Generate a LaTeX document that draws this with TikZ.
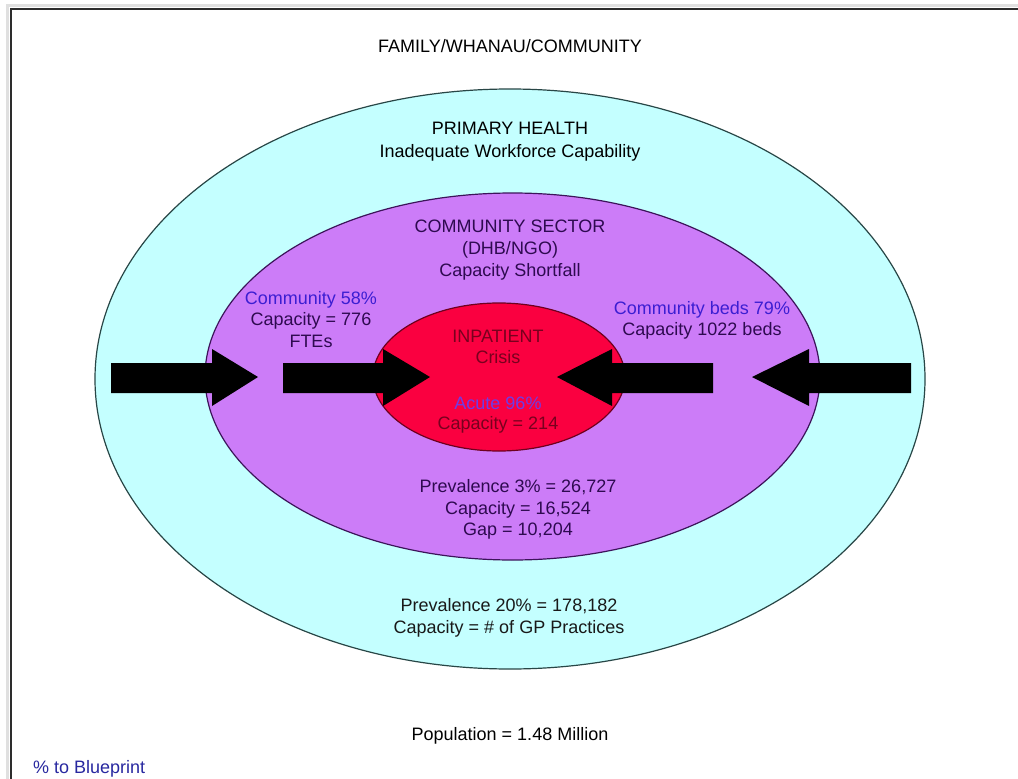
\documentclass[tikz,border=0pt]{standalone}
\usepackage{fontspec}
\setmainfont{Liberation Sans}
\usetikzlibrary{shapes.geometric}
\definecolor{cyanfill}{RGB}{196,255,255}
\definecolor{cyanline}{RGB}{40,70,70}
\definecolor{purplefill}{RGB}{204,124,248}
\definecolor{purpleline}{RGB}{60,20,90}
\definecolor{redfill}{RGB}{250,0,64}
\definecolor{redline}{RGB}{110,0,30}
\definecolor{purpletext}{RGB}{46,10,80}
\definecolor{redtext}{RGB}{120,0,30}
\definecolor{bluetext}{RGB}{60,30,210}
\definecolor{acutetext}{RGB}{110,60,230}
\definecolor{legendblue}{RGB}{40,40,160}
\definecolor{framegray}{RGB}{45,45,45}
\begin{document}
\begin{tikzpicture}[x=1pt,y=-1pt,
  txt/.style={align=center,anchor=base,inner sep=0pt,font=\fontsize{18}{22}\selectfont},
  ell/.style={ellipse,draw,line width=1.2pt,inner sep=0pt},
  blockarrow/.style={fill=black}]
\useasboundingbox (0,0) rectangle (1018,779);
\fill[white] (0,0) rectangle (1018,779);
% frame with faint shadow
\draw[line width=3pt,black!12] (7,779) -- (7,5) -- (1018,5);
\draw[line width=2pt,framegray] (11,779) -- (11,9) -- (1018,9);
% ellipses
\node[ell,draw=cyanline,fill=cyanfill,minimum width=830,minimum height=580] (outer) at (510,379) {};
\node[ell,draw=purpleline,fill=purplefill,minimum width=615,minimum height=367] (mid) at (512.5,376.5) {};
\node[ell,draw=redline,fill=redfill,minimum width=252,minimum height=148] (inner) at (499,377) {};
% arrows
\fill[blockarrow] (111,363) -- (212,363) -- (212,349) -- (258,377) -- (212,406) -- (212,393) -- (111,393) -- cycle;
\fill[blockarrow] (283,363) -- (383,363) -- (383,349) -- (430,377) -- (383,406) -- (383,393) -- (283,393) -- cycle;
\fill[blockarrow] (713,363) -- (612,363) -- (612,349) -- (557,377) -- (612,406) -- (612,393) -- (713,393) -- cycle;
\fill[blockarrow] (911,363) -- (809,363) -- (809,349) -- (752,377) -- (809,406) -- (809,393) -- (911,393) -- cycle;
% texts (base anchor = baseline of last line)
\node[txt] (family) at (510,52.4) {FAMILY/WHANAU/COMMUNITY};
\node[txt,font=\fontsize{18}{23}\selectfont] (primary) at (510,157.4) {PRIMARY HEALTH\\Inadequate Workforce Capability};
\node[txt,text=purpletext] (csector) at (510,276.4) {COMMUNITY SECTOR\\(DHB/NGO)\\Capacity Shortfall};
\node[txt,text=purpletext,font=\fontsize{18}{21.5}\selectfont] (comm58) at (311,347.4) {\textcolor{bluetext}{Community 58\%}\\Capacity = 776\\FTEs};
\node[txt,text=purpletext,font=\fontsize{18}{21.5}\selectfont] (comm79) at (702,335.5) {\textcolor{bluetext}{Community beds 79\%}\\Capacity 1022 beds};
\node[txt,text=redtext,font=\fontsize{18}{21}\selectfont] (inpatient) at (498,363) {INPATIENT\\Crisis};
\node[txt,text=redtext,font=\fontsize{18}{20.5}\selectfont] (acute) at (498,429.5) {\textcolor{acutetext}{Acute 96\%}\\Capacity = 214};
\node[txt,text=purpletext,font=\fontsize{18}{21.5}\selectfont] (prev3) at (518,535.5) {Prevalence 3\% = 26,727\\Capacity = 16,524\\Gap = 10,204};
\node[txt,text=black!90] (prev20) at (509,633.5) {Prevalence 20\% = 178,182\\Capacity = \# of GP Practices};
\node[txt] (pop) at (510,740.5) {Population = 1.48 Million};
\node[txt,anchor=base west,text=legendblue] (legend) at (33,773) {\% to Blueprint};
\end{tikzpicture}
\end{document}
